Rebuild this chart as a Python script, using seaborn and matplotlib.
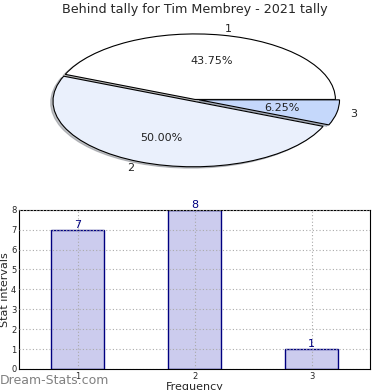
import matplotlib
matplotlib.use('Agg')
import matplotlib.pyplot as plt
import seaborn as sns
import pandas as pd

# data
slice_labels = ['1', '2', '3']
slice_shares = [43.75, 50.00, 6.25]
slice_colors = ['#ffffff', '#eaf0fc', '#c5d8fb']

freq_values = [1, 2, 3]
interval_counts = [7, 8, 1]

sns.set_style('white')
plt.rcParams['font.family'] = ['DejaVu Sans']

fig = plt.figure(figsize=(3.9, 3.9), dpi=100)

# pie (squashed into an ellipse)
ax1 = fig.add_axes([0.05, 0.535, 0.9, 0.42])
ax1.pie(slice_shares, labels=slice_labels, colors=slice_colors,
        autopct='%.2f%%', pctdistance=0.6, labeldistance=1.1,
        explode=(0, 0.03, 0.03),
        shadow={'ox': -0.012, 'oy': -0.015, 'shade': 0.45},
        startangle=0, counterclock=True,
        wedgeprops={'edgecolor': 'black', 'linewidth': 0.8},
        textprops={'fontsize': 8, 'color': '#222222'})
ax1.set_aspect('auto')
ax1.set_xlim(-1.25, 1.25)
ax1.set_ylim(-1.25, 1.25)
fig.text(0.5, 0.975, 'Behind tally for Tim Membrey - 2021 tally',
         ha='center', va='center', fontsize=9.2)

# bar chart
df = pd.DataFrame({'Frequency': freq_values, 'Count': interval_counts})
ax2 = fig.add_axes([0.049, 0.054, 0.9, 0.408])
sns.barplot(data=df, x='Frequency', y='Count', native_scale=True,
            width=0.45, color='#ccccee', edgecolor='#000080',
            linewidth=1, saturation=1, ax=ax2)
for x, y in zip(freq_values, interval_counts):
    ax2.text(x, y, str(y), ha='center', va='bottom', color='#000080', fontsize=8)
ax2.set_xlim(0.5, 3.5)
ax2.set_ylim(0, 8)
ax2.set_xticks(freq_values)
ax2.set_yticks(range(0, 9))
ax2.tick_params(labelsize=6, direction='in', length=3, pad=2)
ax2.grid(True, linestyle=(0, (1, 2)), color='#aaaaaa', linewidth=0.8)
ax2.set_axisbelow(False)
ax2.set_xlabel('Frequency', fontsize=8, labelpad=1)
ax2.set_ylabel('Stat intervals', fontsize=8, labelpad=1)
for s in ax2.spines.values():
    s.set_color('black')
    s.set_linewidth(0.8)

fig.text(0.0, 0.008, 'Dream-Stats.com', fontsize=9, color='#808080',
         ha='left', va='bottom')

fig.savefig('out.png', dpi=100)
